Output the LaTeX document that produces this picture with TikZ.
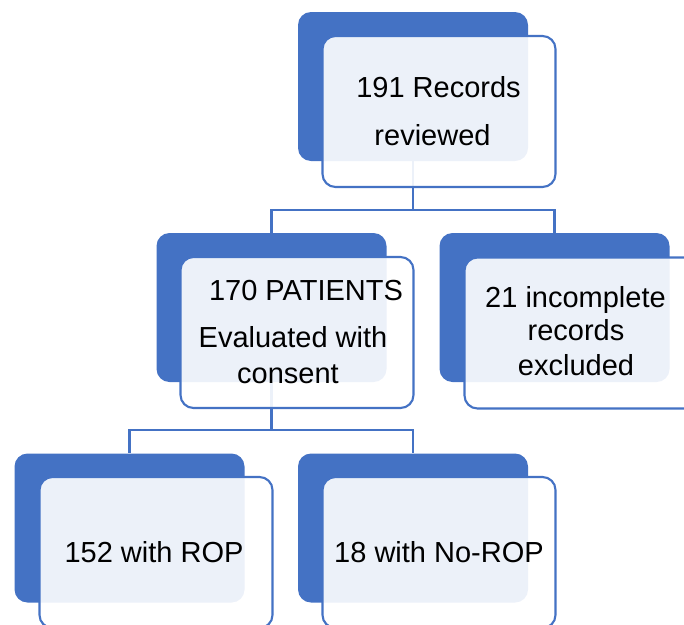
\documentclass[tikz,border=0pt]{standalone}
\usepackage{fontspec}
\setmainfont{Liberation Sans}
\definecolor{oblue}{HTML}{4472C4}
\begin{document}
\begin{tikzpicture}[x=1pt,y=-1pt,
  backbox/.style={fill=oblue, draw=none, rounded corners=13pt, minimum width=230pt, minimum height=149pt, inner sep=0pt},
  frontbox/.style={fill=white, fill opacity=0.9, draw=oblue, draw opacity=1, line width=2.1pt, rounded corners=13pt, minimum width=233pt, minimum height=151pt, inner sep=0pt},
  conn/.style={draw=oblue, line width=2.1pt},
  lbl/.style={anchor=base, inner sep=0pt, font=\fontsize{29}{34}\selectfont, text=black}]
\useasboundingbox (0,0) rectangle (684,624);
\clip (0,0) rectangle (684,624);
% back boxes
\node[backbox] (b1) at (413,86.5) {};
\node[backbox] (b2) at (271.5,307.5) {};
\node[backbox] (b3) at (554.5,307.5) {};
\node[backbox] (b4) at (129.5,528) {};
\node[backbox] (b5) at (413,528) {};
% connectors
\coordinate (j1) at (413,210);
\coordinate (j2) at (271.5,430);
\draw[conn] (b1.south) -- (j1) -| (b2.north);
\draw[conn] (j1) -| (b3.north);
\draw[conn] (b2.south) -- (j2) -| (b4.north);
\draw[conn] (j2) -| (b5.north);
% front boxes
\node[frontbox] (f1) at (439,111.5) {};
\node[frontbox] (f2) at (297,332.5) {};
\node[frontbox] (f3) at (581,333) {};
\node[frontbox] (f4) at (156,552.5) {};
\node[frontbox] (f5) at (439,552.5) {};
% labels
\node[lbl] (t1a) at (438.5,97) {191 Records};
\node[lbl] (t1b) at (432.5,145) {reviewed};
\node[lbl] (t2a) at (306,300) {170 PATIENTS};
\node[lbl] (t2b) at (293,347) {Evaluated with};
\node[lbl] (t2c) at (288,383) {consent};
\node[lbl] (t3a) at (575.5,307) {21 incomplete};
\node[lbl] (t3b) at (576,340) {records};
\node[lbl] (t3c) at (576,375) {excluded};
\node[lbl] (t4) at (154,562) {152 with ROP};
\node[lbl] (t5) at (439,562) {18 with No-ROP};
\end{tikzpicture}
\end{document}
